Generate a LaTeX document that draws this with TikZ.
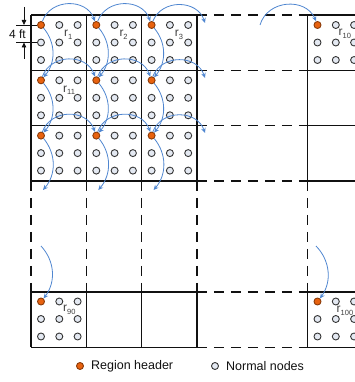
\documentclass[tikz,border=0pt]{standalone}
\usepackage{fontspec}
\setmainfont{Liberation Sans}
\usepackage{xcolor}
\usepackage{tikz}
\usetikzlibrary{arrows.meta,positioning,calc}
\definecolor{ink}{HTML}{111111}
\definecolor{hdrfill}{HTML}{E8620F}
\definecolor{dotfill}{HTML}{E4E9F2}
\definecolor{flow}{HTML}{4F86D0}
\definecolor{labgray}{HTML}{404040}
\newcommand{\regname}[1]{r\raisebox{-2.5pt}{\fontsize{7.5}{8}\selectfont #1}}

\begin{document}
\begin{tikzpicture}[x=1pt,y=1pt,
    cellline/.style={line width=1.5pt, draw=ink},
    gapline/.style={cellline, dash pattern=on 10pt off 7pt},
    normaldot/.style={circle, draw=ink!85, fill=dotfill, line width=0.9pt,
                      minimum size=7pt, inner sep=0pt},
    headerdot/.style={normaldot, fill=hdrfill, draw=hdrfill!60!black},
    flowarrow/.style={-{Stealth[length=5pt,width=4.5pt]}, draw=flow, line width=0.8pt},
    hop/.style={flowarrow, bend left=70, looseness=1.2},
    drop/.style={flowarrow, bend left=40},
    regionlabel/.style={font=\fontsize{12}{12}\selectfont, text=labgray,
                        inner sep=0pt, anchor=base west},
    keytext/.style={font=\fontsize{12.5}{14}\selectfont, text=ink, inner sep=0pt}]
  \useasboundingbox (0,0) rectangle (354,-382);

  % grid: solid cells, dashed gaps
  \foreach \y in {15,70.3,125.6,180.9,292,347.3} {
    \draw[cellline] (31,-\y) -- (196.9,-\y);
    \draw[gapline] (196.9,-\y) -- (307.5,-\y);
    \draw[cellline] (307.5,-\y) -- (363,-\y);
  }
  \foreach \x in {31,86.3,141.6,196.9,307.5} {
    \draw[cellline] (\x,-15) -- (\x,-180.9);
    \draw[gapline] (\x,-180.9) -- (\x,-292);
    \draw[cellline] (\x,-292) -- (\x,-347.3);
  }

  % nodes of each region
  \foreach \c/\r in {0/0,1/0,2/0,5/0,0/1,1/1,2/1,0/2,1/2,2/2,0/5,5/5} {
    \node[headerdot] (h\c\r) at ({41+55.3*\c},{-(25+55.3*\r)}) {};
    \foreach \i/\j in {1/0,2/0,0/1,1/1,2/1,0/2,1/2,2/2}
      \node[normaldot] (d\c\r-\i\j) at ({41+55.3*\c+18.3*\i},{-(25+55.3*\r+17.5*\j)}) {};
  }

  % region names
  \node[regionlabel] (lab1) at ($(h00)+(23,-12)$) {\regname{1}};
  \node[regionlabel] (lab2) at ($(h10)+(23,-12)$) {\regname{2}};
  \node[regionlabel] (lab3) at ($(h20)+(23,-12)$) {\regname{3}};
  \node[regionlabel] (lab10) at ($(h50)+(21,-11)$) {\regname{10}};
  \node[regionlabel] (lab11) at ($(h01)+(22,-12)$) {\regname{11}};
  \node[regionlabel] (lab90) at ($(h05)+(22,-10)$) {\regname{90}};
  \node[regionlabel] (lab100) at ($(h55)+(19,-11)$) {\regname{100}};

  % free ends of the flow
  \coordinate (out0) at (205,-23);
  \coordinate (out1) at (205,-78);
  \coordinate (out2) at (205,-133);
  \coordinate (in0) at (260,-25);
  \foreach \c in {0,1,2}
    \coordinate (down\c) at ({43+55.3*\c},-190);
  \coordinate (up0) at (41,-246);
  \coordinate (up5) at (316,-246);

  % header to header, along the rows
  \foreach \r in {0,1,2} {
    \draw[hop] (h0\r) to (h1\r);
    \draw[hop] (h1\r) to (h2\r);
    \draw[hop] (h2\r) to (out\r);
  }
  \draw[hop] (in0) to (h50);

  % header to header, down the columns
  \foreach \c in {0,1,2} {
    \draw[drop] (h\c0) to (h\c1);
    \draw[drop] (h\c1) to (h\c2);
    \draw[drop] (h\c2) to (down\c);
  }
  \draw[drop] (up0) to (h05);
  \draw[drop] (up5) to (h55);

  % spacing mark
  \coordinate (tick1) at (16,-25);
  \coordinate (tick2) at (16,-42.5);
  \coordinate (arr1) at (24,-7);
  \coordinate (arr2) at (24,-59);
  \draw[line width=0.8pt, ink] (tick1) -- (h00.west);
  \draw[line width=0.8pt, ink] (tick2) -- (d00-01.west);
  \draw[-{Triangle[length=5pt,width=4.5pt]}, line width=0.8pt, ink] (arr1) -- (arr1 |- tick1);
  \draw[-{Triangle[length=5pt,width=4.5pt]}, line width=0.8pt, ink] (arr2) -- (arr2 |- tick2);
  \node[keytext, font=\fontsize{12}{12}\selectfont] (gap) at (17.5,-34) {4 ft};

  % legend
  \node[headerdot] (keyhdr) at (80,-366) {};
  \node[keytext, right=7pt of keyhdr] (keyhdrtext) {Region header};
  \node[normaldot] (keynorm) at (215,-366) {};
  \node[keytext, right=7pt of keynorm] (keynormtext) {Normal nodes};
\end{tikzpicture}
\end{document}
